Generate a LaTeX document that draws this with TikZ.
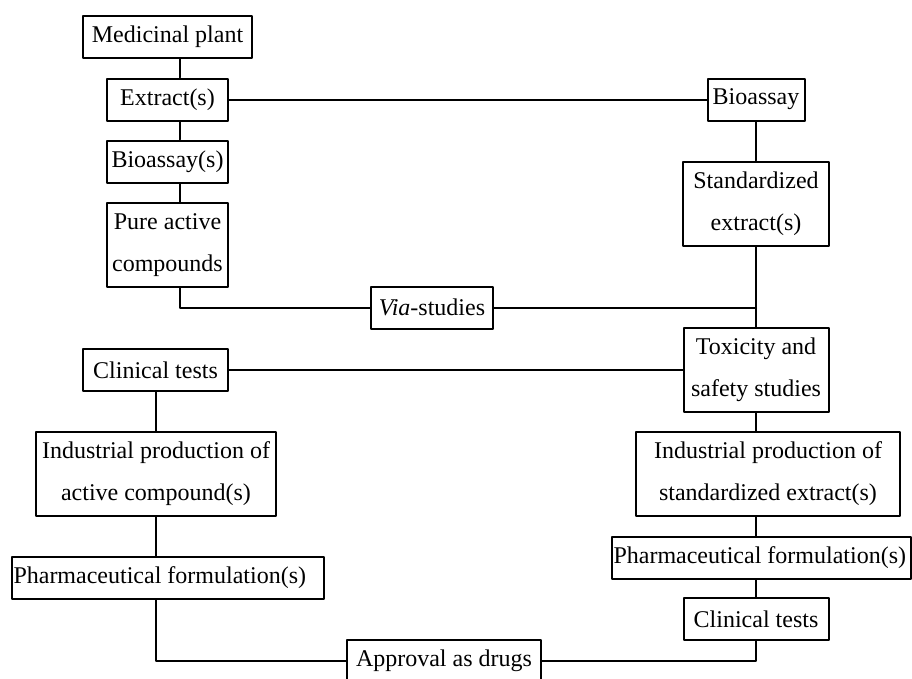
\documentclass[tikz,border=0pt]{standalone}
\usepackage{fontspec}
\setmainfont{Liberation Serif}

\begin{document}
\begin{tikzpicture}[x=1pt,y=-1pt,line cap=round,line join=round,
    box/.style={draw,line width=2pt,inner sep=0pt,minimum height=42,align=center,
      font=\fontsize{24}{42}\selectfont},
    tall/.style={box,minimum height=84},
    link/.style={line width=2pt}]
    \useasboundingbox (0,0) rectangle (912,678);
    \clip (0,0) rectangle (912,678);
    % left branch
    \node[box,minimum width=169] (plant) at (167.5,37) {Medicinal plant};
    \node[box,minimum width=121] (extract) at (167.5,99.5) {Extract(s)};
    \node[box,minimum width=121] (bioassays) at (167.5,161.5) {Bioassay(s)};
    \node[tall,minimum width=121] (pure) at (167.5,245) {Pure active\\compounds};
    % right branch
    \node[box,minimum width=97] (bioassay) at (756,99.5) {Bioassay};
    \node[tall,minimum width=146] (std) at (756,203.5) {Standardized\\extract(s)};
    \node[box,minimum width=122] (via) at (432,307.5) {\textit{Via}-studies};
    \node[tall,minimum width=145] (tox) at (756,370) {Toxicity and\\safety studies};
    \node[box,minimum width=145] (clinL) at (155.5,370) {Clinical tests};
    \node[tall,minimum width=240] (indL) at (156,474) {Industrial production of\\active compound(s)};
    \node[box,minimum width=312] (pharmL) at (168,578) {\makebox[309pt][l]{Pharmaceutical formulation(s)}};
    \node[tall,minimum width=264] (indR) at (768,473.5) {Industrial production of\\standardized extract(s)};
    \node[box,minimum width=299] (pharmR) at (761.5,557.5) {\makebox[296pt][l]{Pharmaceutical formulation(s)}};
    \node[box,minimum width=145] (clinR) at (756,619) {Clinical tests};
    \node[box,minimum width=194] (drugs) at (444,661) {Approval as drugs};
    % connectors
    \coordinate (colL) at (180,0);
    \coordinate (colB) at (156,0);
    \draw[link] (plant.south -| colL) -- (extract.north -| colL);
    \draw[link] (extract.south -| colL) -- (bioassays.north -| colL);
    \draw[link] (bioassays.south -| colL) -- (pure.north -| colL);
    \draw[link] (extract) -- (bioassay);
    \draw[link] (bioassay) -- (std);
    \draw[link] (std) -- (tox);
    \draw[link] (pure.south -| colL) |- (via.west);
    \draw[link] (via.east) -- (via.east -| bioassay);
    \draw[link] (clinL) -- (tox);
    \draw[link] (clinL.south -| colB) -- (indL.north -| colB);
    \draw[link] (indL.south -| colB) -- (pharmL.north -| colB);
    \draw[link] (pharmL.south -| colB) |- (drugs.west);
    \draw[link] (tox.south -| bioassay) -- (indR.north -| bioassay);
    \draw[link] (indR.south -| bioassay) -- (pharmR.north -| bioassay);
    \draw[link] (pharmR.south -| bioassay) -- (clinR.north -| bioassay);
    \draw[link] (clinR.south -| bioassay) |- (drugs.east);
\end{tikzpicture}
\end{document}
